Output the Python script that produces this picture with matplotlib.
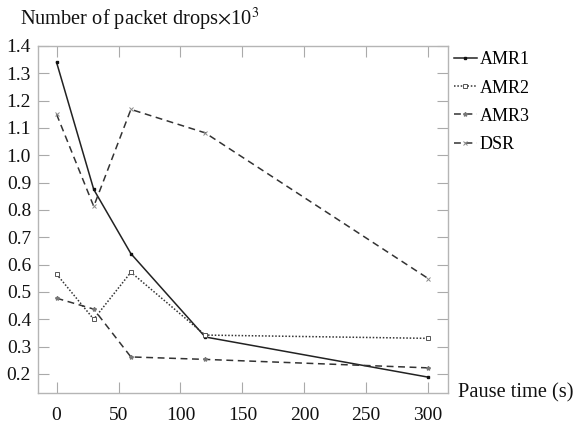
import matplotlib
matplotlib.use("Agg")
import matplotlib.pyplot as plt
import numpy as np

plt.rcParams['font.family'] = ['Liberation Serif', 'DejaVu Serif']
plt.rcParams['mathtext.fontset'] = 'stix'

pause_time = [0, 30, 60, 120, 300]
amr1 = [1.34, 0.875, 0.64, 0.335, 0.188]
amr2 = [0.565, 0.40, 0.572, 0.342, 0.330]
amr3 = [0.477, 0.437, 0.262, 0.253, 0.222]
dsr = [1.15, 0.813, 1.168, 1.082, 0.549]
x_ticks = [0, 50, 100, 150, 200, 250, 300]
y_ticks = [0.2, 0.3, 0.4, 0.5, 0.6, 0.7, 0.8, 0.9, 1.0, 1.1, 1.2, 1.3, 1.4]

fig = plt.figure(figsize=(5.75, 4.25), dpi=100)
ax = fig.add_axes([38/575, 1-393/425, (448-38)/575, (393-46)/425])

ax.plot(pause_time, amr1, color='#222222', lw=1.1, ls='-', marker='s', ms=2,
        mfc='#111111', mec='#111111', label='AMR1')
ax.plot(pause_time, amr2, color='#333333', lw=1.1, ls=(0, (1, 1.2)), marker='s', ms=3,
        mfc='white', mec='#555555', mew=0.7, label='AMR2')
ax.plot(pause_time, amr3, color='#333333', lw=1.1, ls=(0, (4.5, 3)), marker='*', ms=3,
        mfc='#777777', mec='#777777', label='AMR3')
ax.plot(pause_time, dsr, color='#333333', lw=1.1, ls=(0, (4.5, 3)), marker='x', ms=2.5,
        mec='#888888', mew=0.7, label='DSR')

ax.set_xlim(-15, 316)
ax.set_ylim(0.13, 1.4)
ax.set_xticks(x_ticks)
ax.set_yticks(y_ticks)
ax.set_yticklabels([f"{v:.1f}" for v in y_ticks])
ax.tick_params(axis='both', direction='in', length=8, width=0.8, color='#aaaaaa',
               top=True, right=True, labelsize=14, labelcolor='#111111')
ax.tick_params(axis='x', pad=10)
ax.tick_params(axis='y', pad=5)
for s in ax.spines.values():
    s.set_color('#b5b5b5')
    s.set_linewidth(1.0)

leg = ax.legend(loc='upper left', bbox_to_anchor=(1.005, 0.995), frameon=False,
                fontsize=13, handlelength=1.3, handletextpad=0.15, labelspacing=0.62,
                borderaxespad=0.2, borderpad=0.0)

fig.text(20/575, 1-25/425, r'Number of packet drops$\times$10$^3$', fontsize=14.7,
         va='baseline', ha='left', color='#111111')
fig.text(458/575, 1-397/425, 'Pause time (s)', fontsize=14.7, va='baseline', ha='left',
         color='#111111')

fig.savefig('out.png', dpi=100)
